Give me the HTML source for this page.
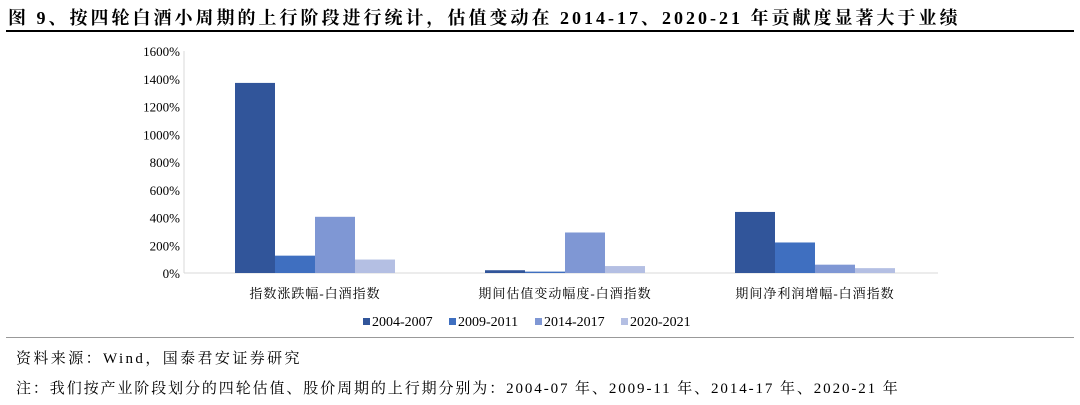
<!DOCTYPE html>
<html><head><meta charset="utf-8"><style>
body{margin:0;width:1080px;height:405px;background:#fff;overflow:hidden;font-family:"Liberation Serif","Noto Serif CJK SC",serif;}
.t{position:absolute;white-space:nowrap;color:#000}
</style></head><body>
<div class="t" style="left:8px;top:4px;font-size:18px;font-weight:bold;letter-spacing:3px;">图 9、按四轮白酒小周期的上行阶段进行统计，估值变动在 2014-17、2020-21 年贡献度显著大于业绩</div>
<div style="position:absolute;left:6px;top:30px;width:1068px;height:2px;background:#000"></div>
<svg id="c" width="1080" height="405" style="position:absolute;left:0;top:0"></svg>
<div style="position:absolute;left:6px;top:337px;width:1068px;height:1px;background:#999"></div>
<div class="t" style="left:16px;top:347px;font-size:15px;letter-spacing:2.4px;">资料来源：Wind，国泰君安证券研究</div>
<div class="t" style="left:16px;top:377px;font-size:15px;letter-spacing:1.9px;">注：我们按产业阶段划分的四轮估值、股价周期的上行期分别为：2004-07 年、2009-11 年、2014-17 年、2020-21 年</div>
<script>
const categories=["指数涨跌幅-白酒指数","期间估值变动幅度-白酒指数","期间净利润增幅-白酒指数"];
const seriesNames=["2004-2007","2009-2011","2014-2017","2020-2021"];
const s2004=[1370,20,440];
const s2009=[125,10,220];
const s2014=[405,292,60];
const s2020=[97,50,35];
const yTicks=[0,200,400,600,800,1000,1200,1400,1600];
const colors=["#31559a","#3f6fc0","#7f97d4","#b4bfe3"];
const series=[s2004,s2009,s2014,s2020];
const svg=document.getElementById('c');const NS="http://www.w3.org/2000/svg";
const x0=188,x1=938,y0=273,y1=51;
const y=v=>y0-(v-0)/(1600)*(y0-y1);
const gw=(x1-x0)/categories.length,bw=40;
function mk(t,a){const e=document.createElementNS(NS,t);for(const k in a)e.setAttribute(k,a[k]);svg.appendChild(e);return e;}
let ax=mk('line',{x1:x0-4,x2:x0-4,y1:y1,y2:y0,stroke:'#d9d9d9'});


yTicks.forEach(v=>{const t=mk('text',{x:x0-8,y:y(v)+5,'text-anchor':'end','font-size':'13','font-family':'Liberation Serif'});t.textContent=v+'%';

});
let xa=mk('line',{x1:x0-4,x2:x1,y1:y0,y2:y0,stroke:'#d9d9d9'});


categories.forEach((c,i)=>{const cx=x0+gw*(i+0.5)+2;
series.forEach((s,j)=>{const r=mk('rect',{x:cx-2*bw+j*bw,y:y(s[i]),width:bw,height:y0-y(s[i]),fill:colors[j]});

});
const t=mk('text',{x:cx,y:298,'text-anchor':'middle','font-size':'13','font-family':'Liberation Serif, Noto Serif CJK SC, serif','letter-spacing':'1'});t.textContent=c;

});
let lx=363;
seriesNames.forEach((n,j)=>{const g=mk('g',{});


const r=document.createElementNS(NS,'rect');r.setAttribute('x',lx);r.setAttribute('y',318);r.setAttribute('width',7);r.setAttribute('height',7);r.setAttribute('fill',colors[j]);g.appendChild(r);
const t=document.createElementNS(NS,'text');t.setAttribute('x',lx+9);t.setAttribute('y',326);t.setAttribute('font-size','14');t.setAttribute('font-family','Liberation Serif');t.textContent=n;g.appendChild(t);
lx+=86;});
</script>
</body></html>
